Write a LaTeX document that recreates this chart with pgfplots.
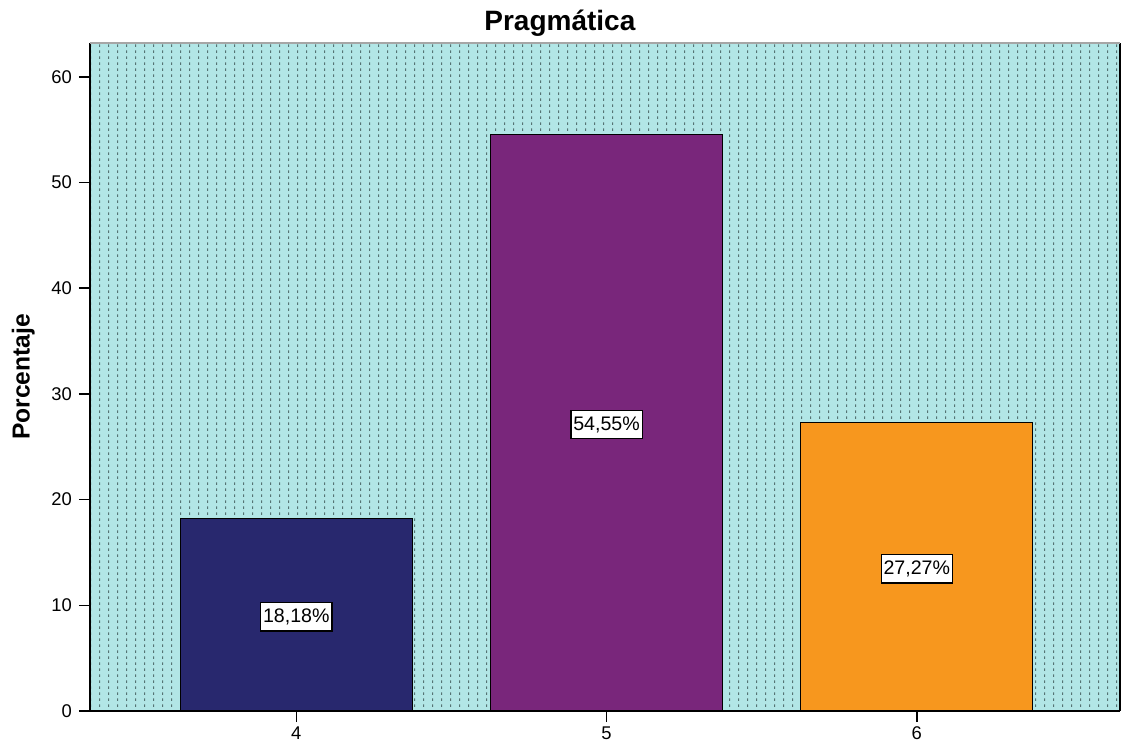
\documentclass[border=0pt]{standalone}
\usepackage{pgfplots}
\pgfplotsset{compat=1.18}
\usepackage{fontspec}
\setmainfont{Liberation Sans}
\usetikzlibrary{patterns}
\definecolor{bgcyan}{RGB}{178,230,230}
\definecolor{dotgray}{RGB}{85,115,115}
\definecolor{navy}{RGB}{40,40,110}
\definecolor{purp}{RGB}{121,38,123}
\definecolor{orng}{RGB}{247,151,30}
\pgfdeclarepatternformonly{sdots}{\pgfpointorigin}{\pgfqpoint{4.5pt}{3pt}}{\pgfqpoint{4.5pt}{3pt}}{%
  \pgfpathrectangle{\pgfqpoint{0pt}{0pt}}{\pgfqpoint{0.65pt}{1.5pt}}\pgfusepath{fill}}
\begin{document}
\begin{tikzpicture}
\begin{axis}[
  name=ax,
  scale only axis,
  width=515pt, height=334pt,
  xmin=3.335, xmax=6.655,
  ymin=0, ymax=63.2,
  xtick={4,5,6},
  ytick={0,10,20,30,40,50,60},
  tick align=outside,
  major tick length=5.5pt,
  tick style={black, line width=0.8pt},
  xtick pos=bottom, ytick pos=left,
  axis line style={line width=0.8pt},
  separate axis lines,
  every outer x axis line/.append style={black},
  every outer y axis line/.append style={black},
  tick label style={font=\fontsize{9.2}{10}\selectfont},
  /pgf/number format/assume math mode=true,
  xticklabel style={yshift=1pt},
  title={\textbf{Pragmática}},
  title style={font=\fontsize{14}{15}\selectfont, yshift=-6.5pt, xshift=-22.5pt},
  ylabel={\textbf{Porcentaje}},
  ylabel style={font=\fontsize{12.3}{13}\selectfont, yshift=1.5pt},
  axis background/.style={preaction={fill=bgcyan}, pattern=sdots, pattern color=dotgray},
  ybar, bar width=0.748, bar shift=0pt,
]
\addplot[fill=navy, draw=black, line width=0.6pt] coordinates {(4,18.18)};
\addplot[fill=purp, draw=black, line width=0.6pt] coordinates {(5,54.55)};
\addplot[fill=orng, draw=black, line width=0.6pt] coordinates {(6,27.27)};
\addplot[draw=none, fill=none, nodes near coords, point meta=explicit symbolic,
  nodes near coords align=center,
  every node near coord/.append style={draw=black, fill=white, font=\fontsize{9.8}{11}\selectfont, inner xsep=1.2pt, inner ysep=3pt, line width=0.6pt, anchor=center, yshift=-1pt}]
  coordinates {(4,9.09) [18,18\%] (5,27.275) [54,55\%] (6,13.635) [27,27\%]};
\draw[gray!70, line width=1pt] (rel axis cs:0,1) -- (rel axis cs:1,1);
\end{axis}
\pgfresetboundingbox
\path ([shift={(-45pt,-15.5pt)}]ax.south west) rectangle ([shift={(1pt,21.5pt)}]ax.north east);
\end{tikzpicture}
\end{document}
